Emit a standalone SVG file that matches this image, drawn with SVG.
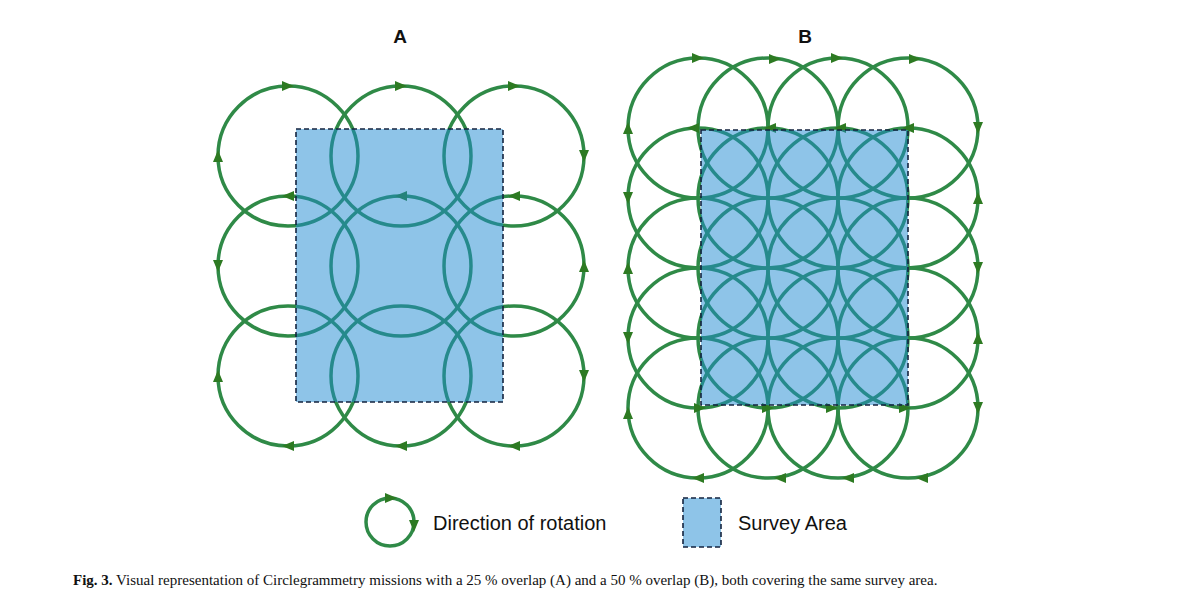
<svg xmlns="http://www.w3.org/2000/svg" xmlns:xlink="http://www.w3.org/1999/xlink" width="1200" height="611" viewBox="0 0 1200 611">
<style>
.c{fill:none;stroke:#2f8a47;stroke-width:3.5}
.ar{fill:#2d7a22}
.area{fill:#1d89d1;fill-opacity:0.5;stroke:#13233f;stroke-width:1.6;stroke-dasharray:5,3}
.lbl{font-family:"Liberation Sans",Arial,sans-serif;font-size:20px;fill:#111}
.ttl{font-family:"Liberation Sans",Arial,sans-serif;font-size:19px;font-weight:bold;fill:#111}
.cap{font-family:"Liberation Serif","Times New Roman",serif;font-size:15px;fill:#111}
</style>
<defs>
<polygon id="h" points="6,0 -6,-5 -6,5"/>
</defs>
<rect width="1200" height="611" fill="#fff"/>
<text class="ttl" x="400" y="43" text-anchor="middle">A</text>
<text class="ttl" x="805" y="43" text-anchor="middle">B</text>
<g id="connectors">
<g id="panelA-circles">
<circle class="c" cx="288" cy="156" r="70"/><circle class="c" cx="401" cy="156" r="70"/><circle class="c" cx="514" cy="156" r="70"/>
<circle class="c" cx="288" cy="266" r="70"/><circle class="c" cx="401" cy="266" r="70"/><circle class="c" cx="514" cy="266" r="70"/>
<circle class="c" cx="288" cy="376" r="70"/><circle class="c" cx="401" cy="376" r="70"/><circle class="c" cx="514" cy="376" r="70"/>
</g>
<g id="panelA-arrows" class="ar">
<use xlink:href="#h" transform="translate(288,86)"/><use xlink:href="#h" transform="translate(401,86)"/><use xlink:href="#h" transform="translate(514,86)"/>
<use xlink:href="#h" transform="translate(218,156) rotate(-90)"/><use xlink:href="#h" transform="translate(584,156) rotate(90)"/>
<use xlink:href="#h" transform="translate(288,196) rotate(180)"/><use xlink:href="#h" transform="translate(401,196) rotate(180)"/><use xlink:href="#h" transform="translate(514,196) rotate(180)"/>
<use xlink:href="#h" transform="translate(218,266) rotate(90)"/><use xlink:href="#h" transform="translate(584,266) rotate(-90)"/>
<use xlink:href="#h" transform="translate(288,446) rotate(180)"/><use xlink:href="#h" transform="translate(401,446) rotate(180)"/><use xlink:href="#h" transform="translate(514,446) rotate(180)"/>
<use xlink:href="#h" transform="translate(218,376) rotate(-90)"/><use xlink:href="#h" transform="translate(584,376) rotate(90)"/>
</g>
<g id="panelB-circles">
<circle class="c" cx="698" cy="128" r="70"/><circle class="c" cx="768" cy="128" r="70"/><circle class="c" cx="838" cy="128" r="70"/><circle class="c" cx="908" cy="128" r="70"/>
<circle class="c" cx="698" cy="198" r="70"/><circle class="c" cx="768" cy="198" r="70"/><circle class="c" cx="838" cy="198" r="70"/><circle class="c" cx="908" cy="198" r="70"/>
<circle class="c" cx="698" cy="268" r="70"/><circle class="c" cx="768" cy="268" r="70"/><circle class="c" cx="838" cy="268" r="70"/><circle class="c" cx="908" cy="268" r="70"/>
<circle class="c" cx="698" cy="338" r="70"/><circle class="c" cx="768" cy="338" r="70"/><circle class="c" cx="838" cy="338" r="70"/><circle class="c" cx="908" cy="338" r="70"/>
<circle class="c" cx="698" cy="408" r="70"/><circle class="c" cx="768" cy="408" r="70"/><circle class="c" cx="838" cy="408" r="70"/><circle class="c" cx="908" cy="408" r="70"/>
</g>
<g id="panelB-arrows" class="ar">
<use xlink:href="#h" transform="translate(698,58)"/><use xlink:href="#h" transform="translate(775,59)"/><use xlink:href="#h" transform="translate(837,58)"/><use xlink:href="#h" transform="translate(915,59)"/>
<use xlink:href="#h" transform="translate(628,128) rotate(-90)"/><use xlink:href="#h" transform="translate(978,128) rotate(90)"/>
<use xlink:href="#h" transform="translate(693,128) rotate(180)"/><use xlink:href="#h" transform="translate(770,128) rotate(180)"/><use xlink:href="#h" transform="translate(840,128) rotate(180)"/><use xlink:href="#h" transform="translate(908,128) rotate(180)"/>
<use xlink:href="#h" transform="translate(628,198) rotate(90)"/><use xlink:href="#h" transform="translate(978,198) rotate(-90)"/>
<use xlink:href="#h" transform="translate(628,268) rotate(-90)"/><use xlink:href="#h" transform="translate(978,268) rotate(90)"/>
<use xlink:href="#h" transform="translate(628,338) rotate(90)"/><use xlink:href="#h" transform="translate(978,338) rotate(-90)"/>
<use xlink:href="#h" transform="translate(700,408)"/><use xlink:href="#h" transform="translate(768,408)"/><use xlink:href="#h" transform="translate(832,408)"/><use xlink:href="#h" transform="translate(905,408)"/>
<use xlink:href="#h" transform="translate(628,413) rotate(-90)"/><use xlink:href="#h" transform="translate(978,408) rotate(90)"/>
<use xlink:href="#h" transform="translate(698,478) rotate(180)"/><use xlink:href="#h" transform="translate(780,478) rotate(180)"/><use xlink:href="#h" transform="translate(848,478) rotate(180)"/><use xlink:href="#h" transform="translate(922,478) rotate(180)"/>
</g>
</g>
<g id="areaA"><rect class="area" x="296" y="129" width="207" height="273"/></g>
<g id="areaB"><rect class="area" x="701" y="130" width="207" height="275"/></g>
<g id="legend-rotation">
<circle class="c" cx="390" cy="522" r="24"/>
<use class="ar" xlink:href="#h" transform="translate(391,498)"/>
<use class="ar" xlink:href="#h" transform="translate(414,526) rotate(90)"/>
<text class="lbl" x="433" y="530">Direction of rotation</text>
</g>
<g id="legend-area">
<rect x="683" y="498" width="38" height="49" fill="#8ec4e8" stroke="#13233f" stroke-width="1.6" stroke-dasharray="5,3"/>
<text class="lbl" x="738" y="530">Survey Area</text>
</g>
<text class="cap" x="73" y="585"><tspan font-weight="bold">Fig. 3.</tspan>  Visual representation of Circlegrammetry missions with a 25 % overlap (A) and a 50 % overlap (B), both covering the same survey area.</text>
</svg>
